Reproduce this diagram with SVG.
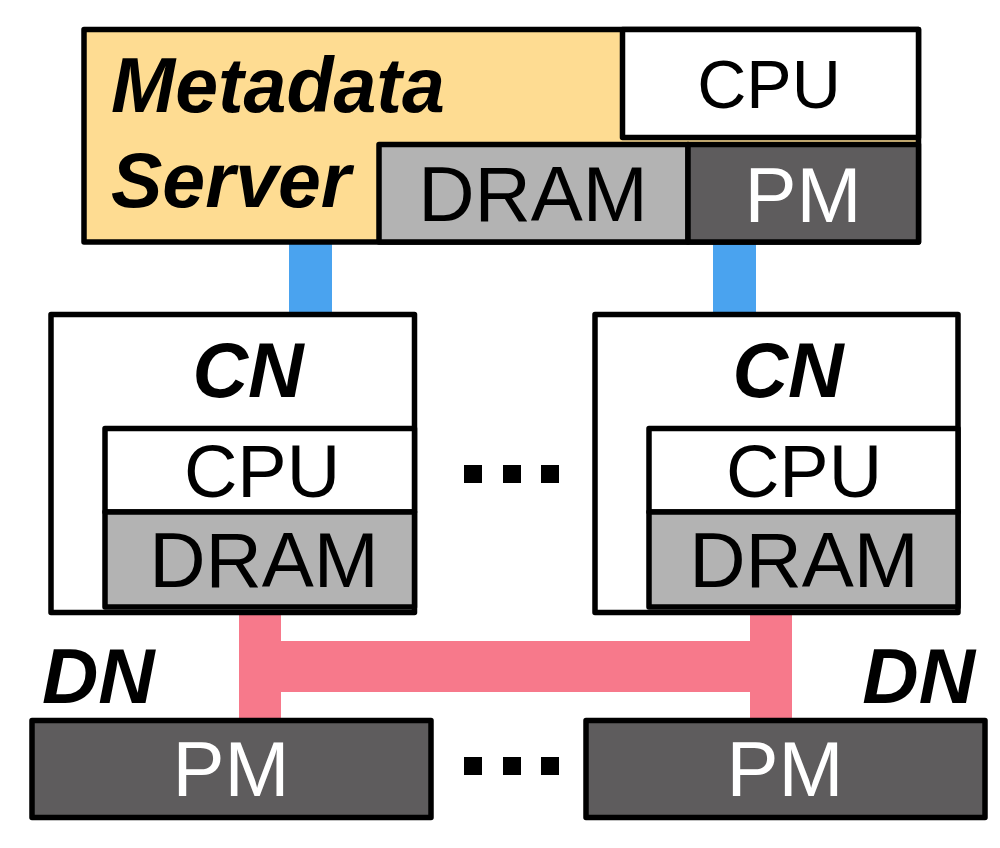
<svg xmlns="http://www.w3.org/2000/svg" width="1000" height="848" viewBox="0 0 1000 848">
<style>
.box{stroke:#000;stroke-width:5.5;stroke-linejoin:round}
.yel{fill:#FEDC92}
.wht{fill:#FFFFFF}
.gry{fill:#B3B3B3}
.drk{fill:#5E5C5D}
.t{font-family:"Liberation Sans",Arial,Helvetica,sans-serif;fill:#000}
.b{font-weight:bold;font-style:italic}
.w{fill:#FFFFFF}
.blue{fill:#4AA3EF}
.pink{fill:#F7798B}
</style>
<rect width="1000" height="848" fill="#FFFFFF"/>
<g id="connectors">
  <rect class="blue" x="289" y="242" width="43" height="72"/>
  <rect class="blue" x="713" y="242" width="43" height="72"/>
  <rect class="pink" x="239" y="612" width="42" height="108"/>
  <rect class="pink" x="750" y="612" width="42" height="108"/>
  <rect class="pink" x="281" y="641" width="469" height="51"/>
</g>
<g id="metadata-server">
  <rect class="box yel" x="84" y="29.5" width="834.5" height="212.5"/>
  <rect class="box wht" x="622.5" y="29.5" width="296" height="108"/>
  <rect class="box gry" x="379" y="144.5" width="309" height="97.5"/>
  <rect class="box drk" x="688" y="144.5" width="230.5" height="97.5"/>
  <text class="t b" x="111" y="112" font-size="77">Metadata</text>
  <text class="t b" x="111" y="207" font-size="77">Server</text>
  <text class="t" x="769" y="108" font-size="68" text-anchor="middle">CPU</text>
  <text class="t" x="533" y="221" font-size="78" text-anchor="middle">DRAM</text>
  <text class="t w" x="803" y="222" font-size="78" text-anchor="middle">PM</text>
</g>
<g id="cn-left">
  <rect class="box wht" x="51" y="314.5" width="363.5" height="298"/>
  <rect class="box wht" x="105" y="428.5" width="309.5" height="83.5"/>
  <rect class="box gry" x="105" y="512" width="309.5" height="95"/>
  <text class="t b" x="248" y="397" font-size="77" text-anchor="middle">CN</text>
  <text class="t" x="262" y="497" font-size="74" text-anchor="middle">CPU</text>
  <text class="t" x="264" y="587" font-size="78" text-anchor="middle">DRAM</text>
</g>
<g id="cn-right">
  <rect class="box wht" x="595" y="314.5" width="363" height="298"/>
  <rect class="box wht" x="649" y="428.5" width="309" height="83.5"/>
  <rect class="box gry" x="649" y="512" width="309" height="95"/>
  <text class="t b" x="788" y="397" font-size="77" text-anchor="middle">CN</text>
  <text class="t" x="804" y="497" font-size="74" text-anchor="middle">CPU</text>
  <text class="t" x="804" y="587" font-size="78" text-anchor="middle">DRAM</text>
</g>
<g id="dots-cn">
  <rect x="464" y="465" width="18" height="18" fill="#000"/>
  <rect x="503" y="465" width="18" height="18" fill="#000"/>
  <rect x="541" y="465" width="18" height="18" fill="#000"/>
</g>
<g id="dn-left">
  <text class="t b" x="42" y="703" font-size="78">DN</text>
  <rect class="box drk" x="32" y="720.5" width="399" height="97"/>
  <text class="t w" x="231" y="796" font-size="78" text-anchor="middle">PM</text>
</g>
<g id="dn-right">
  <text class="t b" x="975" y="703" font-size="78" text-anchor="end">DN</text>
  <rect class="box drk" x="586" y="720.5" width="399" height="97"/>
  <text class="t w" x="785" y="796" font-size="78" text-anchor="middle">PM</text>
</g>
<g id="dots-dn">
  <rect x="464" y="757" width="18" height="18" fill="#000"/>
  <rect x="503" y="757" width="18" height="18" fill="#000"/>
  <rect x="541" y="757" width="18" height="18" fill="#000"/>
</g>
</svg>
